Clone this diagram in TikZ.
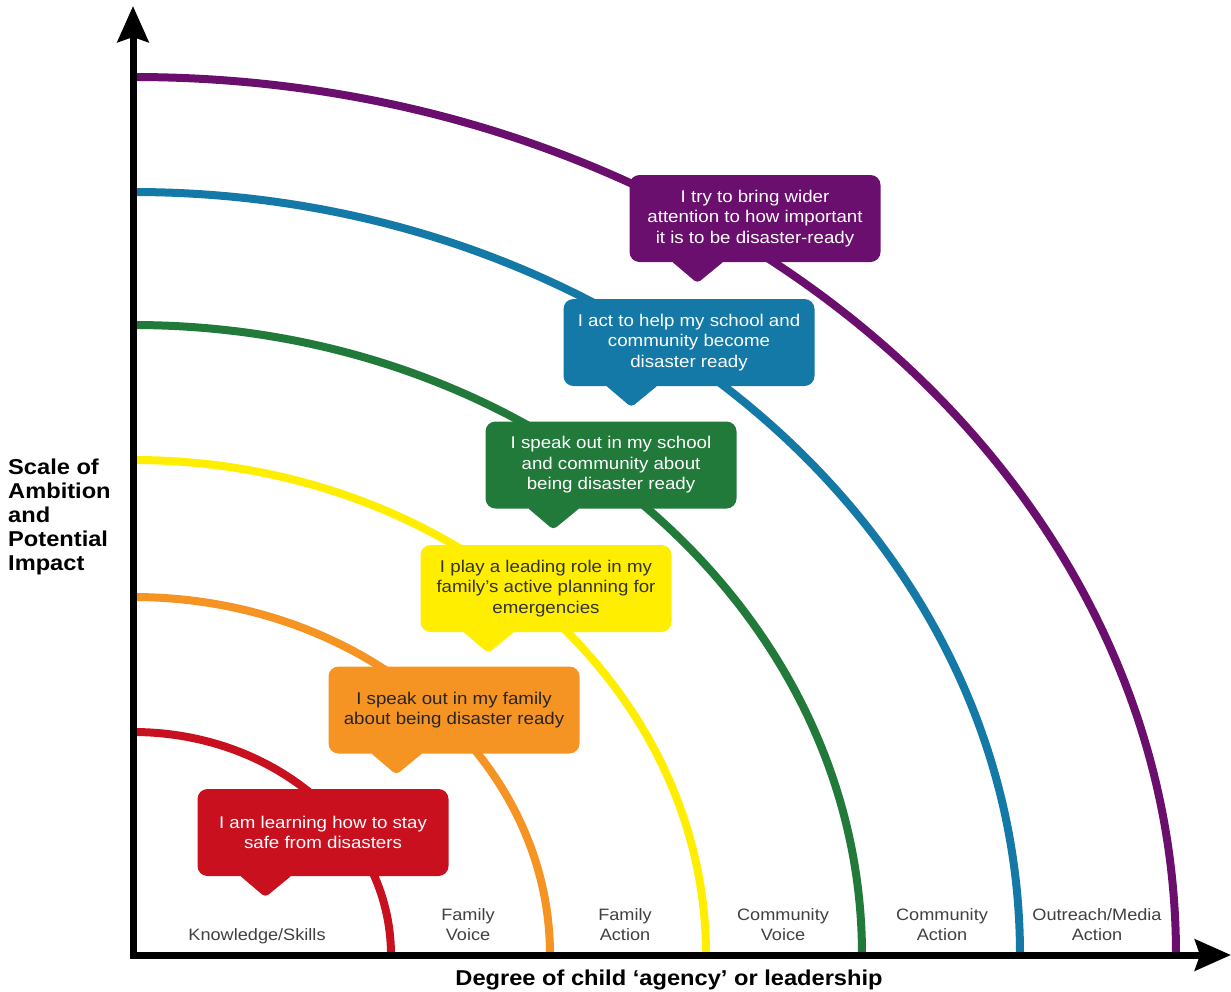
\documentclass[tikz,border=0pt]{standalone}
\usepackage{fontspec}
\setmainfont{Liberation Sans}[FakeStretch=1.1]
\usetikzlibrary{arrows.meta}

\definecolor{cred}{RGB}{200,16,30}
\definecolor{corange}{RGB}{245,147,35}
\definecolor{cyellow}{RGB}{255,238,0}
\definecolor{cgreen}{RGB}{33,122,58}
\definecolor{cblue}{RGB}{20,121,167}
\definecolor{cpurple}{RGB}{107,15,110}

\begin{document}
\begin{tikzpicture}[x=1pt,y=-1pt,
  band/.style={line width=8pt},
  bubble/.style={rounded corners=10pt,minimum width=251pt,minimum height=87pt,
    inner sep=0pt,align=center,font=\fontsize{17}{20.5}\selectfont},
  stage/.style={text=black!75,align=center,font=\fontsize{16.5}{20}\selectfont},
  title/.style={font=\bfseries\fontsize{21.5}{24}\selectfont},
  axisline/.style={line width=7pt,-{Stealth[length=36pt,width=31pt,inset=5pt]}}]
  \useasboundingbox (0,0) rectangle (1231,991);

  \coordinate (O) at (133,955);
  \coordinate (ytop) at (133,6);
  \coordinate (xend) at (1231,955);

  % the six levels
  \draw[band,cred]    (O) ++(0,-223) arc[start angle=90,end angle=0,x radius=258pt,y radius=223pt];
  \draw[band,corange] (O) ++(0,-358) arc[start angle=90,end angle=0,x radius=417pt,y radius=358pt];
  \draw[band,cyellow] (O) ++(0,-495) arc[start angle=90,end angle=0,x radius=573pt,y radius=495pt];
  \draw[band,cgreen]  (O) ++(0,-630) arc[start angle=90,end angle=0,x radius=729pt,y radius=630pt];
  \draw[band,cblue]   (O) ++(0,-763) arc[start angle=90,end angle=0,x radius=887pt,y radius=763pt];
  \draw[band,cpurple] (O) ++(0,-878) arc[start angle=90,end angle=0,x radius=1043pt,y radius=878pt];

  % axes
  \draw[axisline] ([yshift=-3.5pt]O) -- (ytop);
  \draw[axisline] ([xshift=-3.5pt]O) -- (xend);

  % speech bubbles
  \node[bubble,fill=cred,text=white] (know) at (323,832.5) {I am learning how to stay\\safe from disasters};
  \node[bubble,fill=corange,text=black!85] (fvoice) at (454,710) {I speak out in my family\\about being disaster ready};
  \node[bubble,fill=cyellow,text=black!80] (faction) at (546,588.5) {I play a leading role in my\\family's active planning for\\emergencies};
  \node[bubble,fill=cgreen,text=white] (cvoice) at (611,465) {I speak out in my school\\and community about\\being disaster ready};
  \node[bubble,fill=cblue,text=white] (caction) at (689,342.5) {I act to help my school and\\community become\\disaster ready};
  \node[bubble,fill=cpurple,text=white] (media) at (755,218.5) {I try to bring wider\\attention to how important\\it is to be disaster-ready};

  \fill[cred,rounded corners=4pt] ([xshift=41pt,yshift=2pt]know.south west) -- ([xshift=68pt,yshift=-21pt]know.south west) -- ([xshift=96pt,yshift=2pt]know.south west) -- cycle;
  \fill[corange,rounded corners=4pt] ([xshift=41pt,yshift=2pt]fvoice.south west) -- ([xshift=68pt,yshift=-21pt]fvoice.south west) -- ([xshift=96pt,yshift=2pt]fvoice.south west) -- cycle;
  \fill[cyellow,rounded corners=4pt] ([xshift=41pt,yshift=2pt]faction.south west) -- ([xshift=68pt,yshift=-21pt]faction.south west) -- ([xshift=96pt,yshift=2pt]faction.south west) -- cycle;
  \fill[cgreen,rounded corners=4pt] ([xshift=41pt,yshift=2pt]cvoice.south west) -- ([xshift=68pt,yshift=-21pt]cvoice.south west) -- ([xshift=96pt,yshift=2pt]cvoice.south west) -- cycle;
  \fill[cblue,rounded corners=4pt] ([xshift=41pt,yshift=2pt]caction.south west) -- ([xshift=68pt,yshift=-21pt]caction.south west) -- ([xshift=96pt,yshift=2pt]caction.south west) -- cycle;
  \fill[cpurple,rounded corners=4pt] ([xshift=41pt,yshift=2pt]media.south west) -- ([xshift=68pt,yshift=-21pt]media.south west) -- ([xshift=96pt,yshift=2pt]media.south west) -- cycle;

  % stage names along the x axis
  \node[stage] (s1) at (257,936) {Knowledge/Skills};
  \node[stage] (s2) at (468,925) {Family\\Voice};
  \node[stage] (s3) at (625,925) {Family\\Action};
  \node[stage] (s4) at (783,925) {Community\\Voice};
  \node[stage] (s5) at (942,925) {Community\\Action};
  \node[stage] (s6) at (1097,925) {Outreach/Media\\Action};

  \node[title] (xlabel) at (669,980) {Degree of child ‘agency’ or leadership};
  \node[title,align=left,anchor=west,inner sep=0pt] (ylabel) at (8,517) {Scale of\\Ambition\\and\\Potential\\Impact};
\end{tikzpicture}
\end{document}
